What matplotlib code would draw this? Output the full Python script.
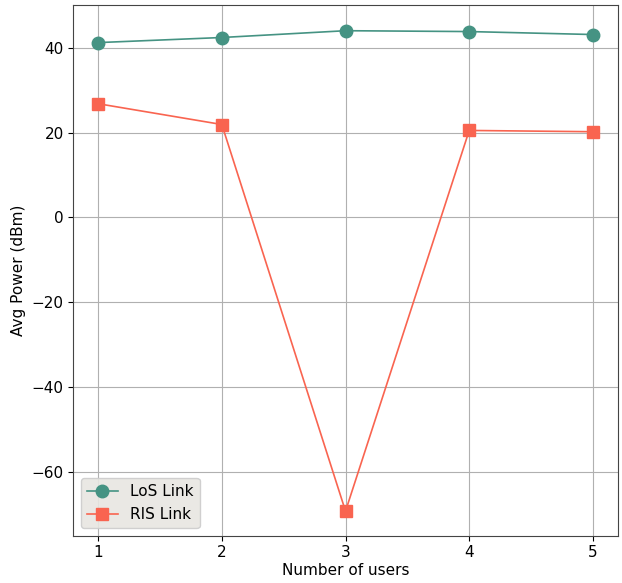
import numpy as np
import matplotlib
matplotlib.use("Agg")
import matplotlib.pyplot as plt

users = [1, 2, 3, 4, 5]
los_power = [41.2, 42.4, 44.0, 43.8, 43.1]
ris_power = [26.8, 21.9, -69.2, 20.5, 20.2]

fig, ax = plt.subplots(figsize=(6.22, 5.83), dpi=100)

ax.plot(users, los_power, color="#459383", marker="o", markersize=9, linewidth=1.2, label="LoS Link")
ax.plot(users, ris_power, color="#f96450", marker="s", markersize=9, linewidth=1.2, label="RIS Link")

ax.set_xticks(users)
ax.set_ylim(-75, 50)
ax.set_xlabel("Number of users", fontsize=11, labelpad=2)
ax.set_ylabel("Avg Power (dBm)", fontsize=11)
ax.tick_params(labelsize=11)
ax.grid(True, color="#b0b0b0", linewidth=0.8)
for s in ax.spines.values():
    s.set_color("#444444")

leg = ax.legend(loc="lower left", fontsize=11, facecolor="#e8e6e1", framealpha=0.9)

fig.subplots_adjust(left=0.118, right=0.993, top=0.991, bottom=0.081)
fig.savefig("out.png", dpi=100)
